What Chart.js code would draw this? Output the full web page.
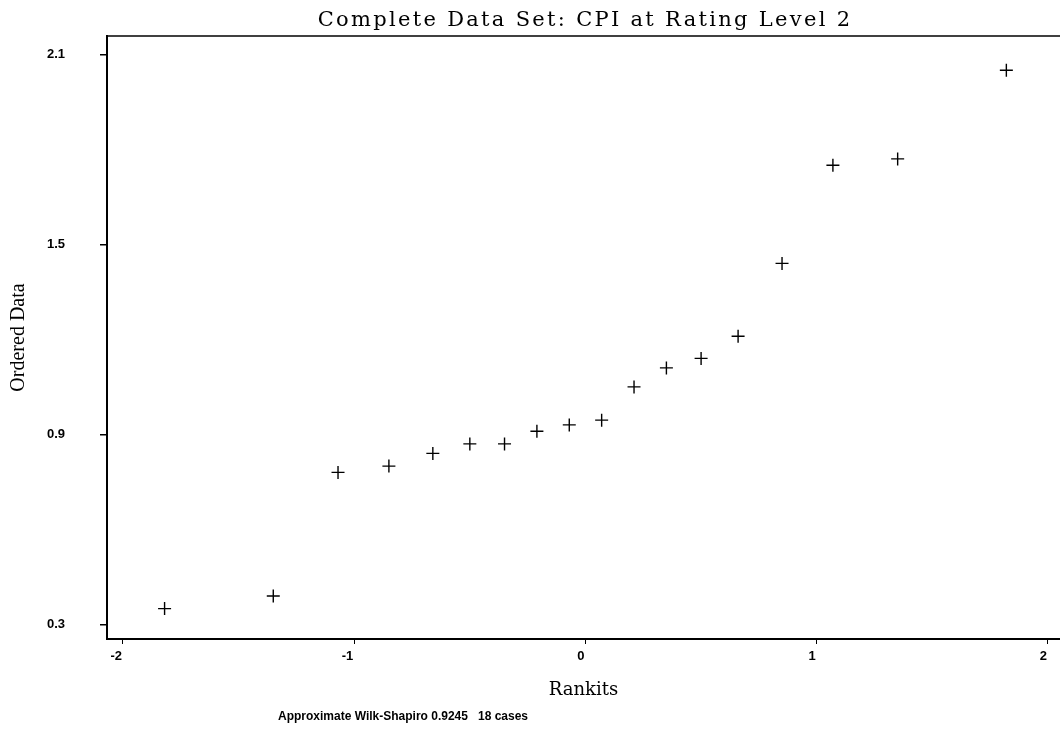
<!DOCTYPE html>
<html>
<head>
<meta charset="utf-8">
<title>Complete Data Set: CPI at Rating Level 2</title>
<script src="https://cdn.jsdelivr.net/npm/chart.js@4/dist/chart.umd.min.js"></script>
<style>
  html, body { margin: 0; padding: 0; background: #ffffff; }
  canvas { display: block; }
</style>
</head>
<body>
<canvas id="qq" width="1060" height="732"></canvas>
<script>
// Normal probability plot: expected normal scores (rankits) vs. sorted CPI values
const rankits = [-1.82, -1.35, -1.07, -0.85, -0.66, -0.50, -0.35, -0.21, -0.07,
                  0.07,  0.21,  0.35,  0.50,  0.66,  0.85,  1.07,  1.35,  1.82];
const orderedCPI = [0.35, 0.39, 0.78, 0.80, 0.84, 0.87, 0.87, 0.91, 0.93,
                    0.945, 1.05, 1.11, 1.14, 1.21, 1.44, 1.75, 1.77, 2.05];

const xTickValues = [-2, -1, 0, 1, 2];
const xTickLabels = ['-2', '-1', '0', '1', '2'];
const yTickValues = [0.3, 0.9, 1.5, 2.1];
const yTickLabels = ['0.3', '0.9', '1.5', '2.1'];

const chartTitle = 'Complete Data Set: CPI at Rating Level 2';
const xAxisTitle = 'Rankits';
const yAxisTitle = 'Ordered Data';
const footnote = 'Approximate Wilk-Shapiro 0.9245   18 cases';

const tickFont = { family: '"Liberation Sans", Arial, sans-serif', size: 13, weight: 'bold' };

// Title, footnote and the top frame edge
const decorations = {
  id: 'decorations',
  afterDraw(chart) {
    const { ctx, chartArea } = chart;
    ctx.save();
    ctx.strokeStyle = '#000';
    ctx.lineWidth = 1.5;
    ctx.beginPath();
    ctx.moveTo(chartArea.left - 1, chartArea.top);
    ctx.lineTo(chart.width, chartArea.top);
    ctx.stroke();

    ctx.fillStyle = '#000';
    ctx.font = '21px "DejaVu Serif", serif';
    ctx.textAlign = 'center';
    ctx.textBaseline = 'alphabetic';
    if ('letterSpacing' in ctx) ctx.letterSpacing = '2.3px';
    ctx.fillText(chartTitle, 585, 26);
    if ('letterSpacing' in ctx) ctx.letterSpacing = '0px';

    ctx.font = 'bold 12px "Liberation Sans", Arial, sans-serif';
    ctx.textAlign = 'left';
    ctx.fillText(footnote, 278, 720);
    ctx.restore();
  }
};

new Chart(document.getElementById('qq'), {
  type: 'scatter',
  data: {
    datasets: [{
      data: rankits.map((r, i) => ({ x: r, y: orderedCPI[i] })),
      pointStyle: 'cross',
      pointRadius: 6.5,
      pointHoverRadius: 6.5,
      borderColor: '#000',
      backgroundColor: '#000',
      borderWidth: 1.4,
      showLine: false
    }]
  },
  options: {
    responsive: false,
    animation: false,
    layout: { autoPadding: false, padding: { top: 36, left: 0, right: 0, bottom: 0 } },
    plugins: {
      legend: { display: false },
      tooltip: { enabled: false },
      title: { display: false }
    },
    scales: {
      x: {
        type: 'linear',
        min: -2.069,
        max: 2.052,
        afterBuildTicks: s => { s.ticks = xTickValues.map(v => ({ value: v })); },
        afterFit: s => { s.height = 93; s.paddingLeft = 0; s.paddingRight = 0; },
        ticks: {
          callback: (v, i) => xTickLabels[i],
          font: tickFont,
          color: '#000',
          padding: 5,
          align: 'end',
          labelOffset: -1,
          maxRotation: 0
        },
        grid: { drawOnChartArea: false, drawTicks: true, tickLength: 5, color: '#000', lineWidth: 1 },
        border: { display: true, color: '#000', width: 2 },
        title: {
          display: true,
          text: xAxisTitle,
          color: '#000',
          font: { family: '"DejaVu Serif", serif', size: 18 },
          padding: { top: 0, bottom: 31 }
        }
      },
      y: {
        type: 'linear',
        min: 0.254,
        max: 2.158,
        afterBuildTicks: s => { s.ticks = yTickValues.map(v => ({ value: v })); },
        afterFit: s => { s.width = 107; s.paddingTop = 0; s.paddingBottom = 0; },
        ticks: {
          callback: (v, i) => yTickLabels[i],
          font: tickFont,
          color: '#000',
          padding: 35
        },
        grid: { drawOnChartArea: false, drawTicks: true, tickLength: 7, color: '#000', lineWidth: 1.5 },
        border: { display: true, color: '#000', width: 2 },
        title: {
          display: true,
          text: yAxisTitle,
          color: '#000',
          font: { family: '"Liberation Serif", "Times New Roman", serif', size: 20 },
          padding: { top: 7, bottom: 0 }
        }
      }
    }
  },
  plugins: [decorations]
});
</script>
</body>
</html>
